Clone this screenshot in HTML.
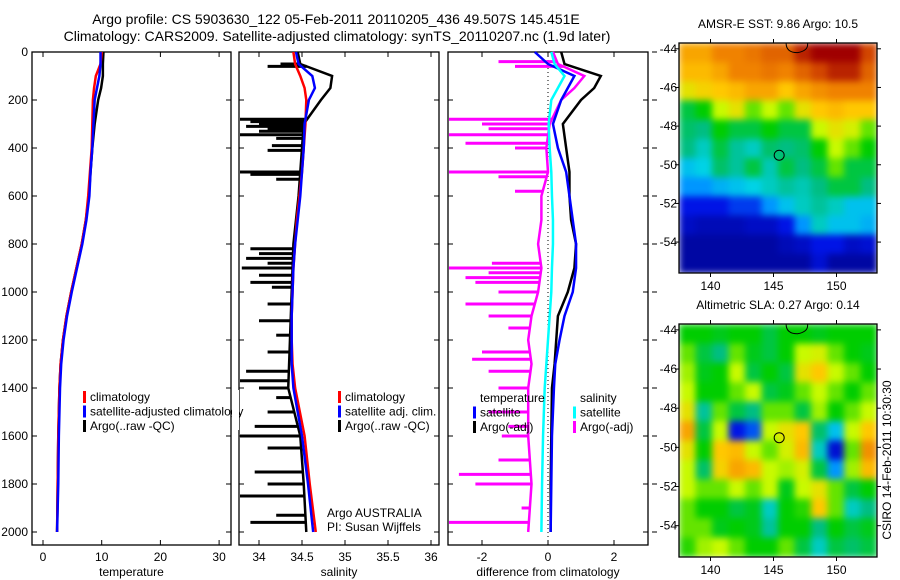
<!DOCTYPE html>
<html><head><meta charset="utf-8">
<style>
body{margin:0;background:#fff;}
svg{display:block;font-family:"Liberation Sans",sans-serif;}
</style></head>
<body>
<svg id="fig" width="900" height="580" viewBox="0 0 900 580">
<defs>
<filter id="bl" x="0" y="0" width="100%" height="100%" color-interpolation-filters="sRGB"><feGaussianBlur stdDeviation="3.5" edgeMode="duplicate"/></filter>
<clipPath id="c1"><rect x="679" y="43" width="198" height="230"/></clipPath>
<clipPath id="c2"><rect x="679" y="324" width="198" height="233"/></clipPath>
</defs>
<text x="336" y="24" font-size="14" text-anchor="middle">Argo profile: CS 5903630_122 05-Feb-2011 20110205_436 49.507S 145.451E</text>
<text x="337" y="41" font-size="14" text-anchor="middle">Climatology: CARS2009. Satellite-adjusted climatology: synTS_20110207.nc (1.9d later)</text>
<g id="g"></g>
</svg>
<script>
const depths=[0,50,100,150,200,300,400,500,600,700,800,900,1000,1100,1200,1300,1400,1600,1800,2000];
const tempClim=[10.0,9.8,9.0,8.7,8.5,8.4,8.3,8.0,7.7,7.3,6.6,5.7,4.8,4.0,3.4,3.0,2.8,2.6,2.5,2.4];
const tempSat=[9.8,9.8,9.6,9.2,8.8,8.6,8.4,8.1,7.9,7.4,6.7,5.8,4.9,4.1,3.5,3.1,2.9,2.7,2.6,2.4];
const tempArgo=[10.3,10.2,10.2,9.9,9.4,8.8,8.4,8.1,7.8,7.3,6.6,5.7,4.8,4.0,3.4,3.0,2.8,2.6,2.5,2.4];
const salClim=[34.40,34.42,34.48,34.53,34.55,34.54,34.52,34.50,34.47,34.44,34.42,34.40,34.39,34.38,34.38,34.39,34.42,34.53,34.59,34.66];
const salSat=[34.43,34.46,34.62,34.65,34.58,34.53,34.52,34.50,34.48,34.45,34.42,34.40,34.39,34.38,34.38,34.38,34.40,34.50,34.57,34.63];
const salArgo=[34.45,34.48,34.85,34.83,34.72,34.52,34.50,34.48,34.46,34.43,34.40,34.39,34.38,34.37,34.36,34.35,34.34,34.48,34.52,34.55];
const salSpikeDepth=[50,60,280,290,300,310,320,330,345,360,390,410,500,510,530,820,840,860,880,900,930,960,980,1050,1120,1180,1250,1330,1370,1400,1440,1500,1560,1600,1650,1750,1800,1850,1930,1960];
const salSpikeVal=[34.25,34.1,33.77,33.9,34.0,33.85,34.1,34.0,33.77,34.2,34.15,34.1,33.77,33.9,34.2,33.9,34.0,33.85,34.1,33.8,34.0,33.9,34.15,34.1,34.0,34.2,34.1,33.85,33.77,34.0,34.2,34.1,33.95,33.77,34.1,33.95,34.1,33.77,34.2,33.9];
const dTempSat=[-0.4,0.0,0.8,0.6,0.4,0.15,0.3,0.55,0.65,0.75,0.85,0.85,0.75,0.5,0.35,0.22,0.18,0.12,0.1,0.08];
const dTempArgo=[0.4,0.5,1.6,1.4,1.0,0.45,0.55,0.65,0.65,0.7,0.85,0.8,0.6,0.3,0.25,0.2,0.12,0.1,0.08,0.08];
const dSalSat=[0.1,0.2,0.5,0.3,0.1,0.02,0.05,0.1,0.12,0.15,0.15,0.12,0.1,0.05,0.0,-0.05,-0.1,-0.15,-0.18,-0.2];
const dSalArgo=[0.15,0.3,1.1,0.8,0.4,0.05,-0.05,0.0,-0.2,-0.2,-0.3,-0.2,-0.3,-0.5,-0.6,-0.5,-0.6,-0.6,-0.5,-0.6];
const dSpikeDepth=[40,60,280,300,320,345,380,400,500,520,580,880,900,920,940,960,1000,1050,1100,1150,1250,1280,1330,1400,1500,1560,1600,1700,1760,1800,1900,1960];
const dSpikeVal=[-1.5,-1.0,-3,-2,-1.8,-3,-2.5,-1,-3,-1.5,-1,-1.7,-3,-1.8,-2.5,-2.2,-1.5,-2.5,-1.8,-1.2,-2,-2.3,-1.8,-1.5,-1.8,-1.2,-1.4,-1.5,-2.7,-2.2,-0.8,-3];
const depthTicks=[0,200,400,600,800,1000,1200,1400,1600,1800,2000];
const tempTicks=[0,10,20,30];
const salTicks=[34,34.5,35,35.5,36];
const salTickLabels=["34","34.5","35","35.5","36"];
const diffTicks=[-2,0,2];
const lonTicks=[140,145,150];
const latTicks=[-44,-46,-48,-50,-52,-54];
const sstGrid=[
[.75,.75,.8,.8,.82,.85,.85,.95,1,1,1,.9],
[.72,.72,.75,.8,.8,.82,.8,.85,.9,.95,.95,.85],
[.65,.68,.7,.72,.75,.75,.7,.75,.78,.8,.8,.8],
[.45,.5,.6,.65,.55,.6,.55,.65,.7,.72,.7,.7],
[.42,.4,.5,.45,.45,.5,.45,.45,.6,.65,.62,.55],
[.4,.35,.45,.38,.35,.42,.4,.42,.5,.6,.55,.5],
[.3,.32,.42,.38,.45,.36,.45,.4,.45,.55,.45,.45],
[.25,.25,.28,.3,.32,.35,.38,.36,.4,.45,.45,.4],
[.15,.15,.15,.18,.18,.25,.3,.35,.38,.35,.3,.3],
[.1,.08,.08,.08,.1,.1,.15,.25,.35,.3,.3,.28],
[.05,.05,.05,.05,.05,.05,.08,.1,.15,.15,.1,.12],
[.05,.05,.05,.05,.05,.05,.05,.05,.12,.05,.05,.05]];
const slaGrid=[
[.5,.5,.48,.5,.5,.45,.5,.5,.48,.5,.5,.5],
[.55,.45,.4,.55,.48,.45,.5,.6,.62,.55,.5,.48],
[.58,.48,.5,.6,.45,.5,.45,.65,.7,.6,.55,.5],
[.6,.5,.5,.55,.6,.45,.48,.55,.6,.55,.5,.55],
[.65,.38,.55,.45,.4,.55,.55,.45,.58,.5,.55,.6],
[.75,.45,.6,.15,.2,.6,.65,.7,.42,.3,.6,.7],
[.65,.5,.7,.72,.6,.55,.62,.72,.35,.12,.55,.78],
[.6,.42,.68,.75,.72,.6,.58,.62,.45,.25,.58,.72],
[.6,.55,.55,.6,.55,.6,.48,.6,.65,.55,.45,.5],
[.55,.5,.5,.45,.48,.35,.5,.52,.7,.55,.35,.4],
[.55,.55,.48,.5,.48,.38,.5,.5,.4,.5,.45,.48],
[.52,.58,.6,.55,.5,.5,.55,.45,.35,.45,.42,.45]];
const argoLon=145.451, argoLat=-49.507;

const NS='http://www.w3.org/2000/svg';
const G=document.getElementById('g');
function mk(t,a,p){const e=document.createElementNS(NS,t);for(const k in a)e.setAttribute(k,a[k]);(p||G).appendChild(e);return e;}
const Y=d=>52+d*0.24;
const xT=t=>43+t*5.87;
const xS=s=>259+(s-34)*86;
const xD=v=>548+v*33;

function panel(name,x0,x1,xs,ticks,labels,xlabel,leftLabels){
  const g=mk('g',{});
  
  
  const r=mk('rect',{x:x0,y:52,width:x1-x0,height:493,fill:'none',stroke:'#000','stroke-width':1.3},g);
  
  
  depthTicks.forEach(d=>{
    mk('line',{x1:x0,x2:x0+5,y1:Y(d),y2:Y(d),stroke:'#000'},g);
    mk('line',{x1:x1,x2:x1-5,y1:Y(d),y2:Y(d),stroke:'#000'},g);
    if(leftLabels){const t=mk('text',{x:x0-4,y:Y(d)+4,'font-size':12,'text-anchor':'end'},g);t.textContent=d;
      
      }
  });
  ticks.forEach((v,i)=>{
    mk('line',{x1:xs(v),x2:xs(v),y1:52,y2:57,stroke:'#000'},g);
    mk('line',{x1:xs(v),x2:xs(v),y1:545,y2:540,stroke:'#000'},g);
    const t=mk('text',{x:xs(v),y:561,'font-size':12,'text-anchor':'middle'},g);t.textContent=labels[i];
    
    
  });
  const t=mk('text',{x:(x0+x1)/2,y:576,'font-size':12,'text-anchor':'middle'},g);t.textContent=xlabel;
  
  
  return g;
}
function line(g,vals,xs,col,name,w){
  const p=mk('polyline',{points:vals.map((v,i)=>xs(v)+','+Y(depths[i])).join(' '),fill:'none',stroke:col,'stroke-width':w||2.5},g);
  
  
}
function spikes(g,ds,vs,base,xs,col,name){
  ds.forEach((d,i)=>{
    let j=0;while(j<depths.length-1&&depths[j+1]<d)j++;
    const f=(d-depths[j])/(depths[j+1]-depths[j]);
    const b=base[j]+(base[j+1]-base[j])*f;
    const l=mk('line',{x1:xs(b),x2:Math.max(xs(vs[i]),0),y1:Y(d),y2:Y(d),stroke:col,'stroke-width':3},g);
    
    
  });
}
function legend(g,x,y,items){
  items.forEach((it,i)=>{
    const yy=y+i*14.5;
    if(it[0]){const b=mk('rect',{x:x,y:yy-10,width:3,height:12,fill:it[0]},g);
      
      }
    const t=mk('text',{x:x+7,y:yy,'font-size':12},g);t.textContent=it[1];
    
    
  });
}
// Panel 1
const p1=panel('temperature-panel',32,231,xT,tempTicks,tempTicks.map(String),'temperature',true);
line(p1,tempArgo,xT,'#000','argo-temperature-line');
line(p1,tempClim,xT,'#f00','climatology-temperature-line');
line(p1,tempSat,xT,'#00f','satellite-temperature-line');
legend(p1,83,401,[['#f00','climatology'],['#00f','satellite-adjusted climatology'],['#000','Argo(..raw -QC)']]);
// Panel 2
const p2=panel('salinity-panel',239,439,xS,salTicks,salTickLabels,'salinity',false);
mk('rect',{x:232,y:390,width:7,height:40,fill:'#fff'});
spikes(p2,salSpikeDepth,salSpikeVal,salArgo,v=>Math.max(xS(v),240),'#000','argo-salinity-spike');
line(p2,salArgo,xS,'#000','argo-salinity-line');
line(p2,salClim,xS,'#f00','climatology-salinity-line');
line(p2,salSat,xS,'#00f','satellite-salinity-line');
legend(p2,338,401,[['#f00','climatology'],['#00f','satellite adj. clim.'],['#000','Argo(..raw -QC)']]);
const a1=mk('text',{x:327,y:517,'font-size':12},p2);a1.textContent='Argo AUSTRALIA';

const a2=mk('text',{x:327,y:531,'font-size':12},p2);a2.textContent='PI: Susan Wijffels';

// Panel 3
const p3=panel('difference-panel',448,648,xD,diffTicks,diffTicks.map(String),'difference from climatology',false);
depthTicks.forEach(d=>mk('line',{x1:652,x2:657,y1:Y(d),y2:Y(d),stroke:'#000'},p3));
mk('line',{x1:xD(0),x2:xD(0),y1:52,y2:545,stroke:'#000','stroke-dasharray':'1,3'},p3);
spikes(p3,dSpikeDepth,dSpikeVal,dSalArgo,v=>Math.max(xD(v),449),'#f0f','argo-salinity-diff-spike');
line(p3,dSalArgo,xD,'#f0f','argo-salinity-diff-line');
line(p3,dTempArgo,xD,'#000','argo-temperature-diff-line');
line(p3,dTempSat,xD,'#00f','satellite-temperature-diff-line');
line(p3,dSalSat,xD,'#0ff','satellite-salinity-diff-line');
legend(p3,473,402,[[null,'temperature'],['#00f','satellite'],['#000','Argo(-adj)']]);
legend(p3,573,402,[[null,'salinity'],['#0ff','satellite'],['#f0f','Argo(-adj)']]);

// maps
const cmapStops=[[0,[0,0,130]],[0.15,[0,20,230]],[0.25,[0,150,255]],[0.32,[0,210,230]],[0.4,[0,190,130]],[0.5,[0,205,0]],[0.6,[200,250,0]],[0.7,[255,200,0]],[0.8,[240,130,0]],[0.9,[210,70,0]],[1,[160,0,0]]];
function jet(v){
  v=Math.max(0,Math.min(1,v));
  let i=0;while(i<cmapStops.length-2&&cmapStops[i+1][0]<v)i++;
  const a=cmapStops[i],b=cmapStops[i+1];const f=(v-a[0])/(b[0]-a[0]);
  const c=a[1].map((x,k)=>Math.round(x+(b[1][k]-x)*f));
  return 'rgb('+c.join(',')+')';
}
function map(name,y0,h,grid,clip,title){
  const g=mk('g',{});
  
  
  const x0=679,w=198;
  const lonX=l=>x0+(l-137.5)*12.6;
  const latY=l=>y0+(-43.7-l)*(h/11.9);
  const hm=mk('g',{'clip-path':'url(#'+clip+')'},g);
  const hb=mk('g',{filter:'url(#bl)'},hm);
  const nr=grid.length,nc=grid[0].length;
  const cw=w/nc,ch=h/nr;
  grid.forEach((row,i)=>row.forEach((v,j)=>{
    const c=mk('rect',{x:x0+j*cw,y:y0+i*ch,width:cw+0.6,height:ch+0.6,fill:jet(v)},hb);
    
    
  }));
  mk('path',{d:`M${lonX(146)} ${y0} Q${lonX(146)} ${latY(-44.2)} ${lonX(146.9)} ${latY(-44.2)} Q${lonX(147.8)} ${latY(-44.1)} ${lonX(147.7)} ${y0}`,fill:'none',stroke:'#000'},hm);
  const fr=mk('rect',{x:x0,y:y0,width:w,height:h,fill:'none',stroke:'#000','stroke-width':1.3},g);
  
  const ci=mk('circle',{cx:lonX(argoLon),cy:latY(argoLat),r:5,fill:'none',stroke:'#000'},g);
  
  lonTicks.forEach(l=>{
    mk('line',{x1:lonX(l),x2:lonX(l),y1:y0,y2:y0-4,stroke:'#000'},g);
    mk('line',{x1:lonX(l),x2:lonX(l),y1:y0+h,y2:y0+h+4,stroke:'#000'},g);
    const t=mk('text',{x:lonX(l),y:y0+h+17,'font-size':12,'text-anchor':'middle'},g);t.textContent=l;
    
  });
  latTicks.forEach(l=>{
    mk('line',{x1:x0,x2:x0-4,y1:latY(l),y2:latY(l),stroke:'#000'},g);
    mk('line',{x1:x0+w,x2:x0+w+4,y1:latY(l),y2:latY(l),stroke:'#000'},g);
    const t=mk('text',{x:x0-2,y:latY(l)+4,'font-size':12,'text-anchor':'end'},g);t.textContent=l;
    
  });
  const t=mk('text',{x:x0+w/2,y:y0-15,'font-size':12,'text-anchor':'middle'},g);t.textContent=title;
  
}
map('sst-map',43,230,sstGrid,'c1','AMSR-E SST: 9.86 Argo: 10.5');
map('sla-map',324,233,slaGrid,'c2','Altimetric SLA: 0.27 Argo: 0.14');
const st=mk('text',{x:0,y:0,'font-size':12,'text-anchor':'middle',transform:'translate(891,460) rotate(-90)'});
st.textContent='CSIRO 14-Feb-2011 10:30:30';

</script>
</body></html>
